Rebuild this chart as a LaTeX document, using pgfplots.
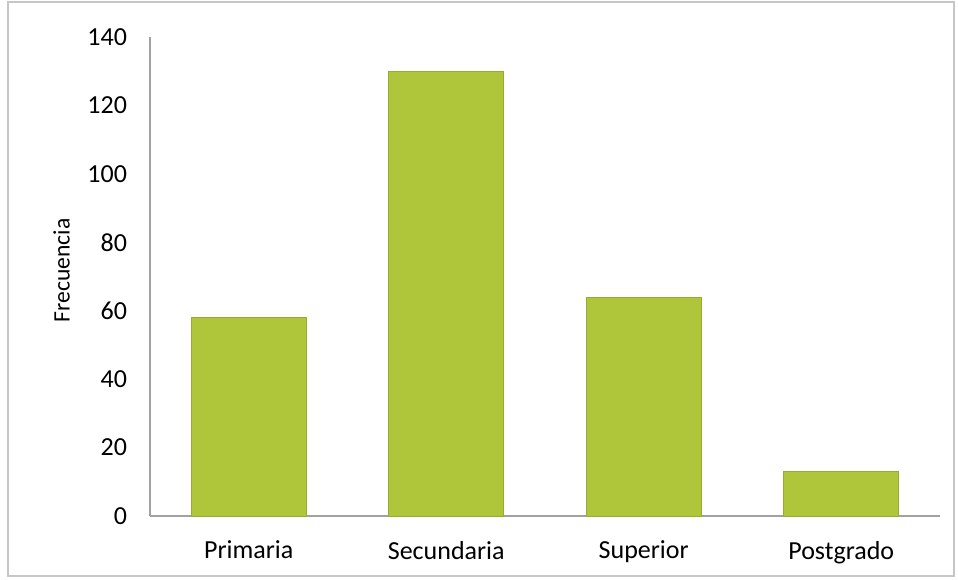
\documentclass[border=0pt]{standalone}
\usepackage{pgfplots}
\pgfplotsset{compat=1.18}
\usepackage{fontspec}
\setmainfont{Carlito}
\definecolor{barfill}{RGB}{176,198,58}
\definecolor{baredge}{RGB}{150,172,50}
\definecolor{axgray}{RGB}{160,160,165}
\begin{document}
\begin{tikzpicture}
\useasboundingbox (-75pt,-31.5pt) rectangle (404pt,258pt);
\draw[color=gray!45, line width=0.6pt] (-71pt,-30pt) rectangle (402pt,257pt);
\begin{axis}[
  at={(0,0)}, anchor=south west,
  scale only axis,
  width=395pt, height=239.5pt,
  xmin=-0.5, xmax=3.5,
  ymin=0, ymax=140,
  ytick={0,20,...,140},
  xtick=data,
  xticklabels={Primaria,Secundaria,Superior,Postgrado},
  axis x line*=bottom, axis y line*=left,
  axis line style={draw=axgray, line width=0.8pt, -},
  major tick length=0pt,
  tick style={draw=none},
  /pgf/number format/assume math mode=true,
  tick label style={font=\fontsize{13}{15}\selectfont, text=black},
  yticklabel style={xshift=-8pt},
  xticklabel style={yshift=-9pt},
  ylabel={Frecuencia},
  every axis y label/.style={at={(axis description cs:-0.112,0.513)}, rotate=90, anchor=center, font=\fontsize{11.8}{13}\selectfont},
  ybar, bar width=57.5pt,
  enlarge x limits=false,
  clip=false,
]
\addplot[fill=barfill, draw=baredge, line width=0.5pt] coordinates {(0,58) (1,130) (2,64) (3,13)};
\end{axis}
\end{tikzpicture}
\end{document}
